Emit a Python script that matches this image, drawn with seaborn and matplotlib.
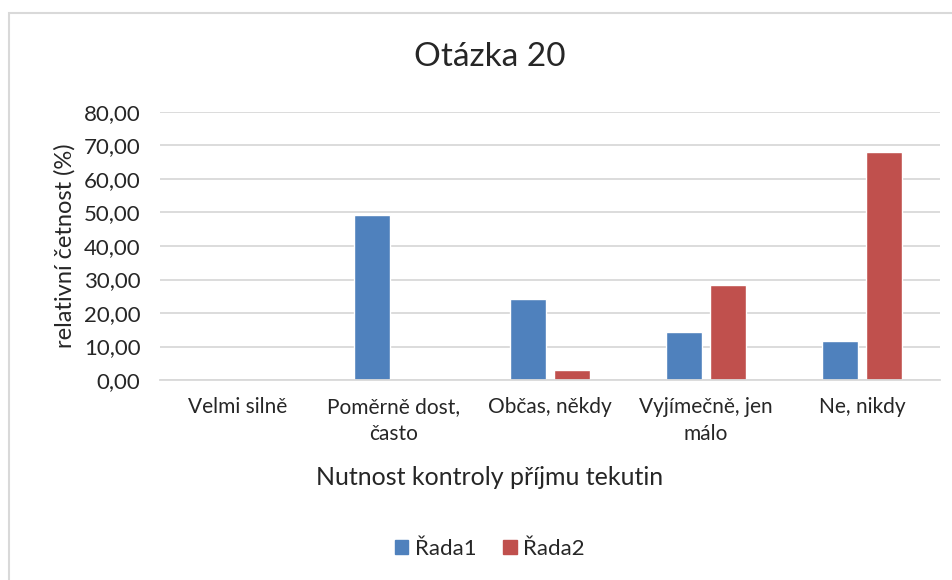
import pandas as pd
import seaborn as sns
import matplotlib.pyplot as plt
from matplotlib.patches import Rectangle

# data
kategorie = ["Velmi silně", "Poměrně dost,\nčasto", "Občas, někdy", "Vyjímečně, jen\nmálo", "Ne, nikdy"]
rada1 = [0.0, 49.2, 24.2, 14.2, 11.6]
rada2 = [0.0, 0.0, 3.1, 28.5, 68.0]
serie = ["Řada1", "Řada2"]
barvy = ["#4F81BD", "#C0504D"]

df = pd.DataFrame({
    "kategorie": kategorie * 2,
    "hodnota": rada1 + rada2,
    "rada": [serie[0]] * len(kategorie) + [serie[1]] * len(kategorie),
})

sns.set_theme(style="white")
plt.rcParams["font.family"] = ["Lato", "DejaVu Sans"]

fig = plt.figure(figsize=(9.53, 5.8), dpi=100)
ax = fig.add_axes([160 / 953, 1 - 380 / 580, 780 / 953, 268 / 580])

sns.barplot(data=df, x="kategorie", y="hodnota", hue="rada", order=kategorie,
            palette=barvy, saturation=1, width=0.565, gap=0.2, ax=ax, legend=False)

ax.set_ylim(0, 80)
ax.set_yticks(range(0, 81, 10))
ax.set_yticklabels([f"{v:.2f}".replace(".", ",") for v in range(0, 81, 10)], fontsize=16)
ax.tick_params(axis="x", labelsize=15, length=0, pad=12)
ax.tick_params(axis="y", length=0, pad=14)
for t in ax.get_xticklabels():
    t.set_linespacing(1.45)
ax.yaxis.grid(True, color="#d9d9d9", linewidth=1.3)
ax.set_axisbelow(True)
for s in ["top", "right", "left"]:
    ax.spines[s].set_visible(False)
ax.spines["bottom"].set_color("#d9d9d9")
ax.spines["bottom"].set_linewidth(1.3)

ax.set_xlabel("Nutnost kontroly příjmu tekutin", fontsize=18)
ax.xaxis.set_label_coords((490 - 160) / 780, (380 - 466) / 268)
ax.set_ylabel("relativní četnost (%)", fontsize=17, labelpad=6)
fig.text(490 / 953, 1 - 57 / 580, "Otázka 20", fontsize=24, ha="center", va="center")

# legenda
ruce = [Rectangle((0, 0), 1, 1, color=c) for c in barvy]
fig.legend(ruce, serie, loc="center", bbox_to_anchor=(490 / 953, 1 - 549 / 580),
           ncol=2, frameon=False, fontsize=16, handlelength=0.6, handleheight=0.6,
           handletextpad=0.3, columnspacing=1.2)

# ramecek grafu
fig.patches.append(Rectangle((9 / 953, -0.05), 1, 1 - 13 / 580 + 0.05,
                             transform=fig.transFigure, fill=False,
                             edgecolor="#d9d9d9", linewidth=1.5))

plt.savefig("out.png", dpi=100)
